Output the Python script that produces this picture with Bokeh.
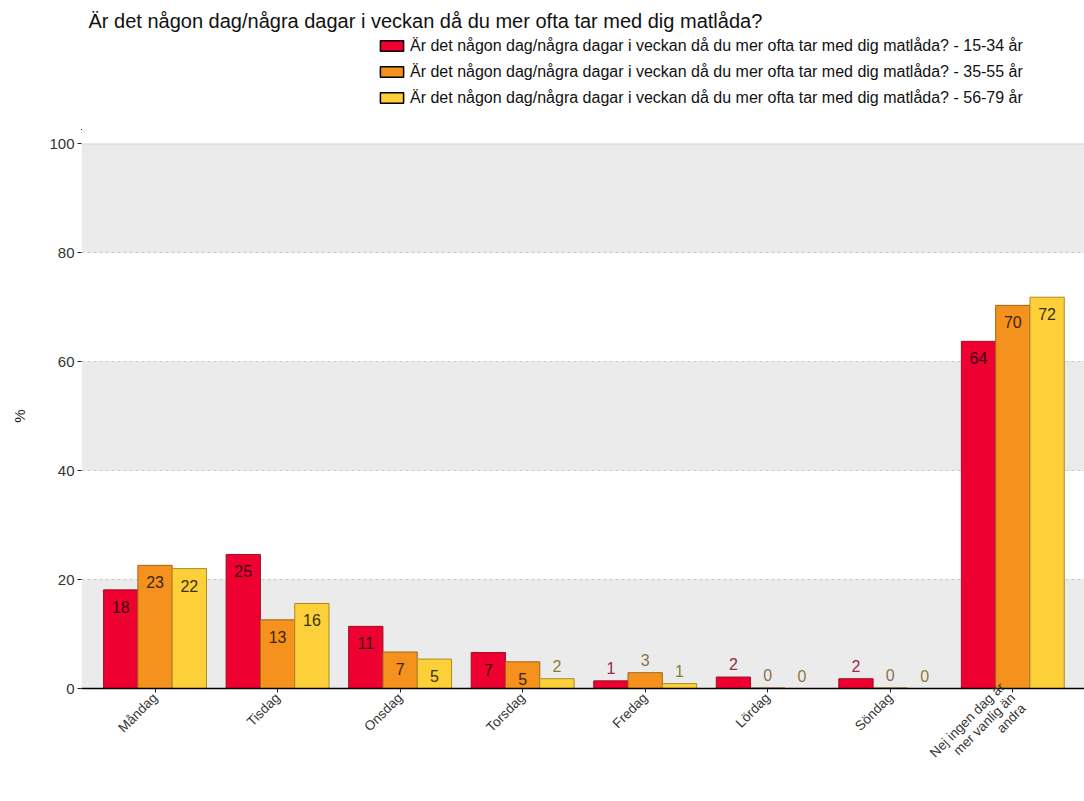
import math
from bokeh.plotting import figure
from bokeh.layouts import column
from bokeh.models import (ColumnDataSource, Range1d, FixedTicker, Legend, LegendItem,
                          BoxAnnotation, Span, Label)
from bokeh.embed import file_html
from bokeh.resources import INLINE
from bokeh.core.properties import value

# ---------------- data ----------------
title_text = "Är det någon dag/några dagar i veckan då du mer ofta tar med dig matlåda?"
categories = ["Måndag", "Tisdag", "Onsdag", "Torsdag", "Fredag", "Lördag", "Söndag",
              "Nej ingen dag är\nmer vanlig än\nandra"]
groups = ["15-34 år", "35-55 år", "56-79 år"]
v_15_34 = [18.1, 24.6, 11.4, 6.6, 1.4, 2.1, 1.8, 63.7]
v_35_55 = [22.6, 12.6, 6.7, 4.9, 2.9, 0.1, 0.1, 70.3]
v_56_79 = [22.0, 15.6, 5.4, 1.8, 0.9, 0.0, 0.0, 71.8]
y_ticks = [0, 20, 40, 60, 80, 100]
band_edges = [(0, 20), (40, 60), (80, 100)]

series = [v_15_34, v_35_55, v_56_79]
fill_colors = ["#EE0030", "#F5921E", "#FDD03A"]
line_colors = ["#9E1028", "#A0651A", "#A88C2A"]
inside_text = ["#3A0810", "#3A2408", "#3A3008"]
outside_text = ["#9C2845", "#8E6F4D", "#8E7A3B"]
offsets = [-0.28, 0.0, 0.28]
FONT = "Liberation Sans"
W, HEAD_H, MAIN_H, LEFT = 1084, 130, 671, 81
HX0, HY0 = 5000, 5000  # header coordinate origin, far from the bar values used by legend proxies

sources = [ColumnDataSource(dict(x=[i + 1 + off for i in range(len(vals))], top=vals))
           for vals, off in zip(series, offsets)]

# ---------------- header (title + legend) ----------------
head = figure(width=W, height=HEAD_H, x_range=Range1d(HX0 + LEFT, HX0 + W),
              y_range=Range1d(HY0, HY0 + HEAD_H),
              output_backend="svg", toolbar_location=None, x_axis_location=None,
              y_axis_location=None, min_border=0, min_border_left=LEFT)
head.outline_line_color = None
head.grid.visible = False
head.add_layout(Label(x=HX0 + 88, y=HY0 + HEAD_H - 20, text=title_text, text_font=FONT,
                      text_font_size="20px", text_baseline="middle", text_align="left",
                      text_color="#111111"))
# legend proxies (same data as the bars; they lie entirely outside the header's ranges)
proxies = [head.vbar(x="x", top="top", width=0.28, source=src, fill_color=fc,
                     line_color="black", line_width=1.5)
           for src, fc in zip(sources, fill_colors)]
legend = Legend(items=[LegendItem(label=f"{title_text} - {g}", renderers=[r])
                       for g, r in zip(groups, proxies)],
                location=(377 - LEFT, HEAD_H - 107.5), orientation="vertical", glyph_width=29,
                glyph_height=13, label_standoff=4, spacing=6, padding=0, margin=0,
                border_line_color=None, background_fill_alpha=0, label_text_font=FONT,
                label_text_font_size="16px", label_height=20, label_text_color="#111111")
head.add_layout(legend)

# ---------------- main chart ----------------
p = figure(width=W, height=MAIN_H, x_range=Range1d(0.4, 8.585), y_range=Range1d(0, 100),
           output_backend="svg", toolbar_location=None,
           min_border_left=LEFT, min_border_right=0, min_border_top=13, min_border_bottom=113)
p.outline_line_color = None
p.xgrid.visible = False
p.ygrid.ticker = FixedTicker(ticks=y_ticks[1:-1])
p.ygrid.grid_line_color = "#C8C8C8"
p.ygrid.grid_line_dash = "3 3"
p.ygrid.grid_line_width = 1

for lo, hi in band_edges:
    p.add_layout(BoxAnnotation(bottom=lo, top=hi, fill_color="#EBEBEB", fill_alpha=1,
                               line_color=None, level="image"))
p.add_layout(Span(location=y_ticks[-1], dimension="width", line_color="#D6D6D6",
                  line_width=2, level="underlay"))

for src, fc, lc in zip(sources, fill_colors, line_colors):
    p.vbar(x="x", top="top", width=0.28, source=src, fill_color=fc, line_color=lc, line_width=1)

lx, ly, lt, lo_, lc_ = [], [], [], [], []
for gi, (vals, off) in enumerate(zip(series, offsets)):
    for i, v in enumerate(vals):
        inside = v >= 4
        lx.append(i + 1 + off)
        ly.append(v)
        lt.append(str(round(v)))
        lo_.append(17 if inside else -13)
        lc_.append(inside_text[gi] if inside else outside_text[gi])
lsrc = ColumnDataSource(dict(x=lx, y=ly, t=lt, off=lo_, c=lc_))
p.text(x="x", y="y", text="t", y_offset="off", text_color="c", source=lsrc,
       text_align="center", text_baseline="middle", text_font=value(FONT),
       text_font_size="16px")

xa = p.xaxis[0]
xa.ticker = FixedTicker(ticks=[i + 1 for i in range(len(categories))])
xa.major_label_overrides = {i + 1: c for i, c in enumerate(categories)}
xa.major_label_orientation = math.pi / 4
xa.major_label_text_font = FONT
xa.major_label_text_font_size = "13.5px"
xa.major_label_text_line_height = 1.0
xa.major_label_standoff = 3
xa.major_label_text_color = "#333333"
xa.axis_line_color = "black"
xa.axis_line_width = 1.5
xa.major_tick_out = 4
xa.major_tick_in = 0
xa.major_tick_line_color = "#222222"
xa.minor_tick_line_color = None

ya = p.yaxis[0]
ya.ticker = FixedTicker(ticks=y_ticks)
ya.axis_line_color = None
ya.major_tick_out = 4
ya.major_tick_in = 0
ya.major_label_standoff = 3
ya.major_tick_line_color = "#222222"
ya.minor_tick_line_color = None
ya.major_label_text_font = FONT
ya.major_label_text_font_size = "15px"
ya.major_label_text_color = "#333333"
ya.axis_label = "%"
ya.axis_label_text_font = FONT
ya.axis_label_text_font_size = "15px"
ya.axis_label_text_font_style = "normal"
ya.axis_label_text_color = "#222222"
ya.axis_label_standoff = 18

layout = column(head, p, spacing=0)
open("out.html", "w").write(file_html(layout, INLINE))
